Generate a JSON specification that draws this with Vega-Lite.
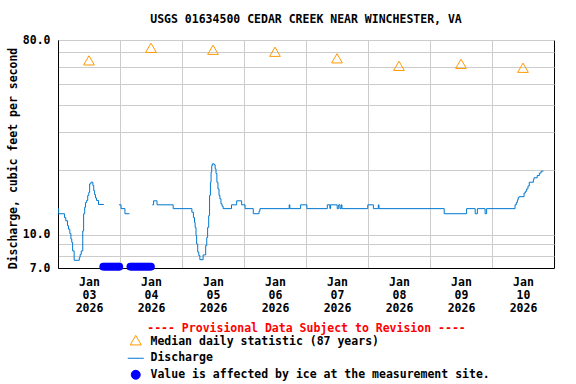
{
  "$schema": "https://vega.github.io/schema/vega-lite/v6.json",
  "autosize": "none",
  "width": 496,
  "height": 228,
  "padding": {"left": 58, "top": 40, "right": 22, "bottom": 116},
  "title": {"text": "USGS 01634500 CEDAR CREEK NEAR WINCHESTER, VA", "font": "DejaVu Sans Mono", "fontSize": 11.5, "fontWeight": "bold", "color": "black", "offset": 9, "anchor": "middle"},
  "config": {
    "view": {"stroke": "black", "strokeWidth": 1},
    "axis": {"domainColor": "black", "domainWidth": 1, "gridColor": "#cccccc", "gridWidth": 1, "ticks": false, "tickSize": 0,
      "labelFont": "DejaVu Sans Mono", "labelFontSize": 11.5, "labelFontWeight": "bold", "labelColor": "black",
      "titleFont": "DejaVu Sans Mono", "titleFontSize": 11.5, "titleFontWeight": "bold", "titleColor": "black"}
  },
  "datasets": {
    "q": [
      {"t": "2026-01-03T00:00", "v": 13.2, "seg": 1},
      {"t": "2026-01-03T00:15", "v": 12.5, "seg": 1},
      {"t": "2026-01-03T02:30", "v": 12.0, "seg": 1},
      {"t": "2026-01-03T03:00", "v": 11.6, "seg": 1},
      {"t": "2026-01-03T03:40", "v": 11.0, "seg": 1},
      {"t": "2026-01-03T04:05", "v": 10.6, "seg": 1},
      {"t": "2026-01-03T04:35", "v": 10.1, "seg": 1},
      {"t": "2026-01-03T05:00", "v": 9.55, "seg": 1},
      {"t": "2026-01-03T05:20", "v": 9.2, "seg": 1},
      {"t": "2026-01-03T05:40", "v": 8.4, "seg": 1},
      {"t": "2026-01-03T06:15", "v": 7.6, "seg": 1},
      {"t": "2026-01-03T08:15", "v": 7.85, "seg": 1},
      {"t": "2026-01-03T08:35", "v": 8.1, "seg": 1},
      {"t": "2026-01-03T09:00", "v": 8.4, "seg": 1},
      {"t": "2026-01-03T09:35", "v": 10.4, "seg": 1},
      {"t": "2026-01-03T09:55", "v": 12.5, "seg": 1},
      {"t": "2026-01-03T10:20", "v": 13.4, "seg": 1},
      {"t": "2026-01-03T10:40", "v": 14.1, "seg": 1},
      {"t": "2026-01-03T11:05", "v": 14.4, "seg": 1},
      {"t": "2026-01-03T11:30", "v": 15.2, "seg": 1},
      {"t": "2026-01-03T11:55", "v": 15.7, "seg": 1},
      {"t": "2026-01-03T12:15", "v": 17.2, "seg": 1},
      {"t": "2026-01-03T12:45", "v": 17.5, "seg": 1},
      {"t": "2026-01-03T13:30", "v": 16.9, "seg": 1},
      {"t": "2026-01-03T13:50", "v": 16.0, "seg": 1},
      {"t": "2026-01-03T14:10", "v": 15.35, "seg": 1},
      {"t": "2026-01-03T14:30", "v": 14.8, "seg": 1},
      {"t": "2026-01-03T14:55", "v": 14.4, "seg": 1},
      {"t": "2026-01-03T15:40", "v": 13.8, "seg": 1},
      {"t": "2026-01-03T17:45", "v": 13.8, "seg": 1},
      {"t": "2026-01-03T23:35", "v": 13.75, "seg": 2},
      {"t": "2026-01-04T00:25", "v": 13.2, "seg": 2},
      {"t": "2026-01-04T01:55", "v": 12.5, "seg": 2},
      {"t": "2026-01-04T03:40", "v": 12.5, "seg": 2},
      {"t": "2026-01-04T12:30", "v": 13.75, "seg": 3},
      {"t": "2026-01-04T13:00", "v": 14.35, "seg": 3},
      {"t": "2026-01-04T14:20", "v": 13.75, "seg": 3},
      {"t": "2026-01-04T20:35", "v": 13.2, "seg": 3},
      {"t": "2026-01-05T03:50", "v": 12.7, "seg": 3},
      {"t": "2026-01-05T04:25", "v": 12.0, "seg": 3},
      {"t": "2026-01-05T04:50", "v": 11.4, "seg": 3},
      {"t": "2026-01-05T05:05", "v": 10.8, "seg": 3},
      {"t": "2026-01-05T05:25", "v": 9.9, "seg": 3},
      {"t": "2026-01-05T05:40", "v": 9.05, "seg": 3},
      {"t": "2026-01-05T06:05", "v": 8.3, "seg": 3},
      {"t": "2026-01-05T06:30", "v": 8.0, "seg": 3},
      {"t": "2026-01-05T06:55", "v": 7.65, "seg": 3},
      {"t": "2026-01-05T08:10", "v": 8.05, "seg": 3},
      {"t": "2026-01-05T09:10", "v": 8.9, "seg": 3},
      {"t": "2026-01-05T09:35", "v": 9.7, "seg": 3},
      {"t": "2026-01-05T09:55", "v": 10.8, "seg": 3},
      {"t": "2026-01-05T10:20", "v": 12.25, "seg": 3},
      {"t": "2026-01-05T10:40", "v": 15.2, "seg": 3},
      {"t": "2026-01-05T11:00", "v": 17.5, "seg": 3},
      {"t": "2026-01-05T11:15", "v": 19.5, "seg": 3},
      {"t": "2026-01-05T11:30", "v": 20.9, "seg": 3},
      {"t": "2026-01-05T11:45", "v": 21.3, "seg": 3},
      {"t": "2026-01-05T12:25", "v": 21.1, "seg": 3},
      {"t": "2026-01-05T12:50", "v": 20.2, "seg": 3},
      {"t": "2026-01-05T13:10", "v": 19.2, "seg": 3},
      {"t": "2026-01-05T13:30", "v": 17.5, "seg": 3},
      {"t": "2026-01-05T13:55", "v": 16.3, "seg": 3},
      {"t": "2026-01-05T14:20", "v": 15.2, "seg": 3},
      {"t": "2026-01-05T14:40", "v": 14.65, "seg": 3},
      {"t": "2026-01-05T15:05", "v": 13.9, "seg": 3},
      {"t": "2026-01-05T15:30", "v": 13.55, "seg": 3},
      {"t": "2026-01-05T15:55", "v": 13.2, "seg": 3},
      {"t": "2026-01-05T19:10", "v": 13.75, "seg": 3},
      {"t": "2026-01-05T21:10", "v": 14.35, "seg": 3},
      {"t": "2026-01-05T23:05", "v": 13.75, "seg": 3},
      {"t": "2026-01-06T00:25", "v": 13.2, "seg": 3},
      {"t": "2026-01-06T03:35", "v": 12.5, "seg": 3},
      {"t": "2026-01-06T05:50", "v": 12.85, "seg": 3},
      {"t": "2026-01-06T06:10", "v": 13.2, "seg": 3},
      {"t": "2026-01-06T17:30", "v": 13.75, "seg": 3},
      {"t": "2026-01-06T17:45", "v": 13.2, "seg": 3},
      {"t": "2026-01-06T21:55", "v": 13.75, "seg": 3},
      {"t": "2026-01-07T00:20", "v": 13.2, "seg": 3},
      {"t": "2026-01-07T08:15", "v": 13.75, "seg": 3},
      {"t": "2026-01-07T09:15", "v": 13.2, "seg": 3},
      {"t": "2026-01-07T09:30", "v": 13.75, "seg": 3},
      {"t": "2026-01-07T12:05", "v": 13.2, "seg": 3},
      {"t": "2026-01-07T12:40", "v": 13.75, "seg": 3},
      {"t": "2026-01-07T13:10", "v": 13.2, "seg": 3},
      {"t": "2026-01-07T13:40", "v": 13.75, "seg": 3},
      {"t": "2026-01-07T13:55", "v": 13.2, "seg": 3},
      {"t": "2026-01-07T23:55", "v": 13.75, "seg": 3},
      {"t": "2026-01-08T02:05", "v": 13.2, "seg": 3},
      {"t": "2026-01-08T04:00", "v": 13.75, "seg": 3},
      {"t": "2026-01-08T04:15", "v": 13.2, "seg": 3},
      {"t": "2026-01-09T05:30", "v": 12.5, "seg": 3},
      {"t": "2026-01-09T14:10", "v": 13.2, "seg": 3},
      {"t": "2026-01-09T17:30", "v": 12.5, "seg": 3},
      {"t": "2026-01-09T18:20", "v": 13.2, "seg": 3},
      {"t": "2026-01-09T21:20", "v": 12.5, "seg": 3},
      {"t": "2026-01-09T21:55", "v": 13.2, "seg": 3},
      {"t": "2026-01-10T08:55", "v": 13.75, "seg": 3},
      {"t": "2026-01-10T09:25", "v": 14.1, "seg": 3},
      {"t": "2026-01-10T09:50", "v": 14.5, "seg": 3},
      {"t": "2026-01-10T10:10", "v": 14.9, "seg": 3},
      {"t": "2026-01-10T10:35", "v": 15.0, "seg": 3},
      {"t": "2026-01-10T12:25", "v": 15.6, "seg": 3},
      {"t": "2026-01-10T12:55", "v": 15.9, "seg": 3},
      {"t": "2026-01-10T13:25", "v": 16.3, "seg": 3},
      {"t": "2026-01-10T13:55", "v": 16.8, "seg": 3},
      {"t": "2026-01-10T14:25", "v": 17.5, "seg": 3},
      {"t": "2026-01-10T16:00", "v": 18.0, "seg": 3},
      {"t": "2026-01-10T16:15", "v": 18.35, "seg": 3},
      {"t": "2026-01-10T17:30", "v": 18.8, "seg": 3},
      {"t": "2026-01-10T18:20", "v": 19.3, "seg": 3},
      {"t": "2026-01-10T19:00", "v": 19.7, "seg": 3},
      {"t": "2026-01-10T19:55", "v": 19.7, "seg": 3}
    ],
    "med": [
      {"t": "2026-01-03T12:00", "v": 63.3},
      {"t": "2026-01-04T12:00", "v": 72.4},
      {"t": "2026-01-05T12:00", "v": 70.9},
      {"t": "2026-01-06T12:00", "v": 69.4},
      {"t": "2026-01-07T12:00", "v": 64.7},
      {"t": "2026-01-08T12:00", "v": 59.7},
      {"t": "2026-01-09T12:00", "v": 61.0},
      {"t": "2026-01-10T12:00", "v": 58.5}
    ],
    "ice": [
      {"t": "2026-01-03T17:30", "v": 7.1},
      {"t": "2026-01-03T18:00", "v": 7.1},
      {"t": "2026-01-03T18:30", "v": 7.1},
      {"t": "2026-01-03T19:00", "v": 7.1},
      {"t": "2026-01-03T19:30", "v": 7.1},
      {"t": "2026-01-03T20:00", "v": 7.1},
      {"t": "2026-01-03T20:30", "v": 7.1},
      {"t": "2026-01-03T21:00", "v": 7.1},
      {"t": "2026-01-03T21:30", "v": 7.1},
      {"t": "2026-01-03T22:00", "v": 7.1},
      {"t": "2026-01-03T22:30", "v": 7.1},
      {"t": "2026-01-03T23:00", "v": 7.1},
      {"t": "2026-01-03T23:30", "v": 7.1},
      {"t": "2026-01-03T23:45", "v": 7.1},
      {"t": "2026-01-04T04:00", "v": 7.1},
      {"t": "2026-01-04T04:30", "v": 7.1},
      {"t": "2026-01-04T05:00", "v": 7.1},
      {"t": "2026-01-04T05:30", "v": 7.1},
      {"t": "2026-01-04T06:00", "v": 7.1},
      {"t": "2026-01-04T06:30", "v": 7.1},
      {"t": "2026-01-04T07:00", "v": 7.1},
      {"t": "2026-01-04T07:30", "v": 7.1},
      {"t": "2026-01-04T08:00", "v": 7.1},
      {"t": "2026-01-04T08:30", "v": 7.1},
      {"t": "2026-01-04T09:00", "v": 7.1},
      {"t": "2026-01-04T09:30", "v": 7.1},
      {"t": "2026-01-04T10:00", "v": 7.1},
      {"t": "2026-01-04T10:30", "v": 7.1},
      {"t": "2026-01-04T11:00", "v": 7.1},
      {"t": "2026-01-04T11:30", "v": 7.1},
      {"t": "2026-01-04T12:00", "v": 7.1}
    ]
  },
  "encoding": {
    "x": {"field": "t", "type": "temporal",
      "scale": {"domain": [{"year": 2026, "month": "jan", "date": 3}, {"year": 2026, "month": "jan", "date": 11}]},
      "axis": {
        "title": "---- Provisional Data Subject to Revision ----",
        "titleColor": "#ff0000", "titlePadding": 9,
        "values": [
          {"year": 2026, "month": "jan", "date": 3}, {"year": 2026, "month": "jan", "date": 4},
          {"year": 2026, "month": "jan", "date": 5}, {"year": 2026, "month": "jan", "date": 6},
          {"year": 2026, "month": "jan", "date": 7}, {"year": 2026, "month": "jan", "date": 8},
          {"year": 2026, "month": "jan", "date": 9}, {"year": 2026, "month": "jan", "date": 10}
        ],
        "labelExpr": "[timeFormat(datum.value, '%b'), timeFormat(datum.value, '%d'), timeFormat(datum.value, '%Y')]",
        "labelOffset": 31, "labelFlush": false, "labelOverlap": false, "labelBound": false,
        "labelPadding": 8, "labelLineHeight": 13, "grid": true
      }
    },
    "y": {"field": "v", "type": "quantitative",
      "scale": {"type": "log", "domain": [7, 80], "nice": false},
      "axis": {
        "title": "Discharge, cubic feet per second", "titlePadding": 4, "titleY": 118,
        "values": [7, 8, 9, 10, 20, 30, 40, 50, 60, 70, 80],
        "labelExpr": "datum.value == 7 || datum.value == 10 || datum.value == 80 ? format(datum.value, '.1f') : ''",
        "labelPadding": 8, "grid": true
      }
    }
  },
  "layer": [
    {
      "data": {"name": "q"},
      "mark": {"type": "line", "interpolate": "step-after", "strokeWidth": 1},
      "encoding": {
        "detail": {"field": "seg", "type": "nominal"},
        "color": {"datum": "Discharge", "type": "nominal",
          "scale": {"domain": ["Median daily statistic (87 years)", "Discharge", "Value is affected by ice at the measurement site."], "range": ["#ff9900", "#0078d0", "#0000ff"]},
          "legend": {
            "orient": "none", "legendX": 72, "legendY": 296, "direction": "vertical", "title": null, "padding": 0,
            "labelFont": "DejaVu Sans Mono", "labelFontSize": 11.5, "labelFontWeight": "bold", "labelColor": "black",
            "labelLimit": 500, "labelOffset": 9, "symbolSize": 256, "rowPadding": 3.5, "symbolStrokeWidth": 1,
            "encode": {"symbols": {"update": {
              "shape": {"signal": "datum.value === 'Discharge' ? 'stroke' : (datum.value === 'Median daily statistic (87 years)' ? 'triangle' : 'circle')"},
              "size": {"signal": "datum.value === 'Discharge' ? 256 : (datum.value === 'Median daily statistic (87 years)' ? 121 : 80)"},
              "fill": {"signal": "datum.value === 'Value is affected by ice at the measurement site.' ? '#0000ff' : 'transparent'"},
              "fillOpacity": {"signal": "datum.value === 'Value is affected by ice at the measurement site.' ? 1 : 0"},
              "stroke": {"signal": "datum.value === 'Value is affected by ice at the measurement site.' ? 'transparent' : (datum.value === 'Discharge' ? '#0078d0' : '#ff9900')"},
              "strokeWidth": {"value": 1},
              "opacity": {"value": 1}
            }}}
          }
        }
      }
    },
    {
      "data": {"name": "med"},
      "mark": {"type": "point", "shape": "triangle", "filled": false, "size": 114, "strokeWidth": 1, "opacity": 1},
      "encoding": {"color": {"datum": "Median daily statistic (87 years)", "type": "nominal"}}
    },
    {
      "data": {"name": "ice"},
      "mark": {"type": "point", "shape": "circle", "filled": true, "size": 59, "opacity": 1},
      "encoding": {"color": {"datum": "Value is affected by ice at the measurement site.", "type": "nominal"}}
    }
  ]
}
